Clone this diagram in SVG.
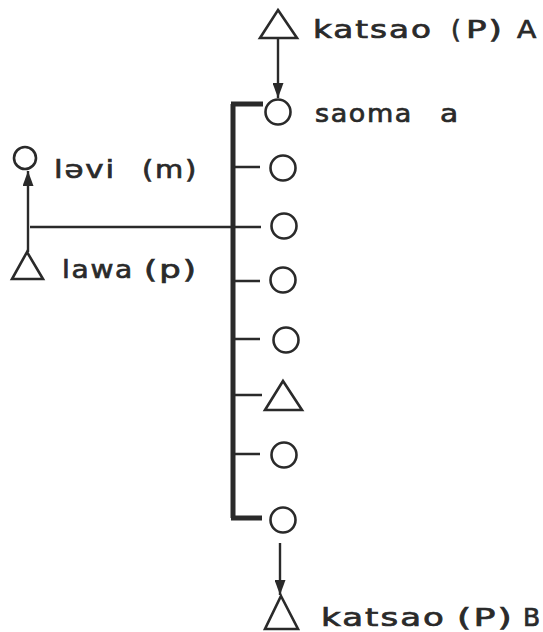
<svg xmlns="http://www.w3.org/2000/svg" width="543" height="632" viewBox="0 0 543 632">
<defs>
<style>
.node{fill:none;stroke:#2a2a2a;stroke-width:2.6}
.ln{stroke:#2a2a2a;stroke-width:2.4;fill:none}
.bar{stroke:#2a2a2a;stroke-width:5;fill:none}
.t{font-family:"DejaVu Sans",sans-serif;font-size:25px;fill:#2a2a2a;stroke:#2a2a2a;stroke-width:0.7;letter-spacing:1.5px}
</style>
<marker id="ah" viewBox="0 0 15 11" refX="15" refY="5.5" markerWidth="15" markerHeight="11" markerUnits="userSpaceOnUse" orient="auto">
<path d="M0,0 L15,5.5 L0,11 Z" fill="#2a2a2a"/>
</marker>
</defs>
<rect width="543" height="632" fill="#ffffff"/>
<g id="connectors">
<path class="bar" d="M231,104 H263 M233,104 V518 M231,518 H262"/>
<path class="ln" d="M233,167 H260 M30,227 H261 M233,281 H260 M233,339 H260 M233,395 H262 M233,454 H260"/>
<line class="ln" x1="278" y1="38" x2="278" y2="98" marker-end="url(#ah)"/>
<line class="ln" x1="280" y1="543" x2="280" y2="595" marker-end="url(#ah)"/>
<line class="ln" x1="28" y1="252" x2="28" y2="171" marker-end="url(#ah)"/>
</g>
<g id="katsaoA"><path class="node" d="M278,10 L297,38 L260,38 Z"/><text class="t" y="38"><tspan x="313" textLength="120" lengthAdjust="spacingAndGlyphs">katsao</tspan> <tspan x="451">(</tspan> <tspan x="466" textLength="38" lengthAdjust="spacingAndGlyphs">P)</tspan> <tspan x="517" textLength="21" lengthAdjust="spacingAndGlyphs">A</tspan></text></g>
<g id="saoma"><circle class="node" cx="278" cy="112" r="12.5"/><text class="t" y="122"><tspan x="315" textLength="98" lengthAdjust="spacingAndGlyphs">saoma</tspan> <tspan x="440" textLength="20" lengthAdjust="spacingAndGlyphs">a</tspan></text></g>
<g id="c2"><circle class="node" cx="283" cy="168" r="12.5"/></g>
<g id="c3"><circle class="node" cx="284" cy="226" r="12.5"/></g>
<g id="c4"><circle class="node" cx="283" cy="280" r="12.5"/></g>
<g id="c5"><circle class="node" cx="286" cy="340" r="12.5"/></g>
<g id="t6"><path class="node" d="M283,381 L302,410 L265,410 Z"/></g>
<g id="c7"><circle class="node" cx="284" cy="455" r="12.5"/></g>
<g id="c8"><circle class="node" cx="283" cy="520" r="12.5"/></g>
<g id="levi"><circle class="node" cx="25" cy="158" r="11"/><text class="t" y="178"><tspan x="54" textLength="62" lengthAdjust="spacingAndGlyphs">ləvi</tspan> <tspan x="142" textLength="56" lengthAdjust="spacingAndGlyphs">(m)</tspan></text></g>
<g id="lawa"><path class="node" d="M27,252 L43,279 L12,279 Z"/><text class="t" y="278"><tspan x="62" textLength="72" lengthAdjust="spacingAndGlyphs">lawa</tspan> <tspan x="144" textLength="54" lengthAdjust="spacingAndGlyphs">(p)</tspan></text></g>
<g id="katsaoB"><path class="node" d="M281,596 L298,629 L265,629 Z"/><text class="t" y="626"><tspan x="321" textLength="125" lengthAdjust="spacingAndGlyphs">katsao</tspan> <tspan x="457" textLength="57" lengthAdjust="spacingAndGlyphs">(P)</tspan> <tspan x="523">B</tspan></text></g>
</svg>
